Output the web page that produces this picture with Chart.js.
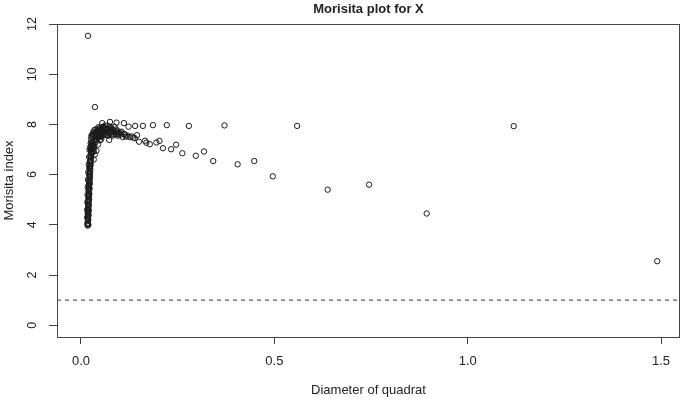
<!DOCTYPE html>
<html><head><meta charset="utf-8">
<script src="https://cdn.jsdelivr.net/npm/chart.js@4.4.1/dist/chart.umd.min.js"></script>
<style>html,body{margin:0;padding:0;background:#fff;}canvas{display:block;}</style>
</head><body>
<canvas id="c" width="685" height="401"></canvas>
<script>
const chartTitle = "Morisita plot for X";
const xAxisLabel = "Diameter of quadrat";
const yAxisLabel = "Morisita index";
const xTicks = [0, 0.5, 1.0, 1.5];
const xTickLabels = ["0.0", "0.5", "1.0", "1.5"];
const yTicks = [0, 2, 4, 6, 8, 10, 12];
const yTickLabels = ["0", "2", "4", "6", "8", "10", "12"];
const refLevel = 1;

const columnDiam = [0.017,0.019,0.018,0.0175,0.019,0.018,0.0185,0.019,0.018,0.0195,0.019,0.0185,0.020,0.019,0.0195,0.020,0.0195,0.0205,0.020,0.021,0.0205,0.021,0.0215,0.021,0.022,0.0215,0.022,0.0225,0.022,0.023,0.0225,0.023,0.024,0.0235,0.024,0.025,0.0245,0.025,0.026,0.0255,0.027,0.026,0.028,0.027,0.029,0.028,0.030,0.024,0.022,0.021,0.020,0.019,0.018,0.0175,0.017,0.0165,0.016,0.016,0.0165,0.033,0.036,0.040];
const columnIndex = [3.97,3.99,4.08,4.15,4.20,4.28,4.35,4.42,4.50,4.55,4.62,4.70,4.76,4.83,4.90,4.97,5.04,5.10,5.18,5.25,5.32,5.40,5.47,5.55,5.62,5.70,5.78,5.85,5.93,6.00,6.08,6.15,6.22,6.30,6.38,6.45,6.52,6.60,6.67,6.75,6.82,6.90,6.95,7.02,7.08,7.15,7.20,7.10,6.98,6.70,6.40,6.10,5.80,5.50,5.20,4.90,4.60,4.30,4.05,6.60,6.80,6.95];

const stemDiam = [0.0185,0.0175,0.0195,0.0175,0.020,0.018,0.020,0.0185,0.021,0.019,0.0215,0.0195,0.022,0.020,0.0225,0.0205,0.023,0.021,0.0235,0.0215,0.0245,0.0225,0.025,0.024,0.026,0.025,0.027,0.029];
const stemIndex = [4.02,4.25,4.38,4.45,4.58,4.66,4.80,4.95,5.02,5.14,5.22,5.36,5.44,5.58,5.66,5.75,5.90,6.02,6.12,6.26,6.35,6.50,6.58,6.72,6.85,7.00,7.25,6.88];

const blobDiam = [0.025,0.026,0.027,0.028,0.029,0.030,0.031,0.032,0.033,0.033,0.034,0.035,0.036,0.037,0.038,0.039,0.040,0.041,0.042,0.043,0.044,0.045,0.046,0.047,0.048,0.049,0.050,0.051,0.052,0.053,0.055,0.056,0.058,0.060,0.062,0.063,0.065,0.067,0.069,0.070,0.072,0.073,0.074,0.076,0.078,0.080,0.082,0.085,0.087,0.090,0.093,0.096,0.100,0.103,0.108,0.112];
const blobIndex = [7.25,7.40,7.10,7.50,7.30,7.45,7.60,7.00,6.92,7.35,7.55,7.20,7.65,7.45,7.30,7.70,7.55,7.40,7.75,7.60,7.20,7.80,7.50,7.65,7.85,7.37,7.55,7.75,7.40,7.85,7.65,7.90,7.55,7.80,7.95,7.60,7.85,7.70,7.95,7.55,7.80,7.38,7.65,7.90,7.60,7.80,7.55,7.70,7.90,7.60,7.75,7.55,7.70,7.60,7.50,7.62];

const bendDiam = [0.046,0.048,0.049,0.051,0.052,0.054,0.054,0.057,0.059,0.059,0.061,0.064,0.066,0.068,0.071,0.073,0.077,0.079,0.081,0.083,0.084,0.088,0.091,0.094,0.038,0.040,0.042,0.044,0.035,0.032,0.030,0.028,0.027,0.026,0.031,0.034,0.0951,0.0972,0.0993,0.1146,0.1208,0.1315,0.1355,0.1656];
const bendIndex = [7.70,7.60,7.78,7.50,7.68,7.82,7.55,7.72,7.85,7.62,7.70,7.78,7.58,7.82,7.68,7.88,7.72,7.85,7.65,7.78,7.60,7.68,7.80,7.62,7.58,7.80,7.48,7.68,7.78,7.70,7.62,7.20,7.55,7.05,7.15,7.08,7.68,7.60,7.65,7.58,7.55,7.52,7.47,7.35];

const upperDiam = [0.018,0.036,0.045,0.055,0.075,0.092,0.111,0.123,0.140,0.160,0.186,0.222,0.279,0.371,0.559,1.119];
const upperIndex = [11.53,8.69,7.89,8.05,8.10,8.07,8.05,7.91,7.94,7.94,7.97,7.97,7.94,7.96,7.94,7.93];

const lowerDiam = [0.105,0.116,0.126,0.139,0.145,0.150,0.169,0.178,0.195,0.203,0.212,0.233,0.246,0.262,0.297,0.318,0.342,0.405,0.448,0.496,0.638,0.745,0.894,1.490];
const lowerIndex = [7.71,7.51,7.49,7.45,7.57,7.31,7.27,7.21,7.28,7.34,7.05,7.01,7.19,6.85,6.75,6.92,6.54,6.41,6.54,5.93,5.40,5.60,4.45,2.55];

const X_MIN = -0.062, X_MAX = 1.549, Y_MIN = -0.47, Y_MAX = 12.0;

function pairs(xs, ys) { return xs.map((x, i) => ({ x: x, y: ys[i] })); }
const points = [].concat(
  pairs(columnDiam, columnIndex),
  pairs(stemDiam, stemIndex),
  pairs(blobDiam, blobIndex),
  pairs(bendDiam, bendIndex),
  pairs(upperDiam, upperIndex),
  pairs(lowerDiam, lowerIndex)
);

const FONT = "'Liberation Sans', Arial, Helvetica, sans-serif";
const INK = '#222';

const framePlugin = {
  id: 'frame',
  afterDraw(chart) {
    const ctx = chart.ctx, a = chart.chartArea;
    const ys = chart.scales.y;
    ctx.save();
    ctx.strokeStyle = '#444';
    ctx.lineWidth = 1;
    const l = Math.round(a.left) + 0.5, t = Math.round(a.top) + 0.5;
    const r = Math.round(a.right) - 0.5, b = Math.round(a.bottom) + 0.5;
    ctx.strokeRect(l, t, r - l, b - t);
    ctx.fillStyle = INK;
    ctx.font = "12.5px " + FONT;
    ctx.textAlign = 'center';
    ctx.textBaseline = 'middle';
    yTicks.forEach((v, i) => {
      const py = ys.getPixelForValue(v);
      ctx.save();
      ctx.translate(33, py);
      ctx.rotate(-Math.PI / 2);
      ctx.fillText(yTickLabels[i], 0, 0);
      ctx.restore();
    });
    ctx.font = "bold 13px " + FONT;
    ctx.fillText(chartTitle, (a.left + a.right) / 2, 9);
    ctx.restore();
  }
};

new Chart(document.getElementById('c'), {
  type: 'scatter',
  data: {
    datasets: [
      {
        data: points,
        pointStyle: 'circle',
        pointRadius: 2.7,
        pointBorderWidth: 1,
        pointBorderColor: '#1a1a1a',
        pointBackgroundColor: 'rgba(0,0,0,0)',
        showLine: false
      },
      {
        type: 'line',
        data: [{ x: X_MIN, y: refLevel }, { x: X_MAX, y: refLevel }],
        borderColor: '#333',
        borderWidth: 1,
        borderDash: [4, 4],
        pointRadius: 0,
        fill: false
      }
    ]
  },
  options: {
    responsive: false,
    animation: false,
    events: [],
    layout: { padding: { top: 24, right: 2, left: 0, bottom: 0 } },
    plugins: { legend: { display: false }, tooltip: { enabled: false }, title: { display: false } },
    scales: {
      x: {
        type: 'linear',
        min: X_MIN, max: X_MAX,
        afterBuildTicks: s => { s.ticks = xTicks.map(v => ({ value: v })); },
        afterFit: s => { s.height = 64; },
        ticks: {
          callback: (v, i) => xTickLabels[i],
          font: { family: FONT, size: 13 },
          color: INK,
          padding: 10,
          maxRotation: 0, minRotation: 0, autoSkip: false
        },
        grid: { drawOnChartArea: false, drawTicks: true, tickLength: 7, color: '#444', lineWidth: 1 },
        border: { display: false },
        title: { display: true, text: xAxisLabel, color: INK, font: { family: FONT, size: 13 }, padding: { top: 0, bottom: 3 } }
      },
      y: {
        type: 'linear',
        min: Y_MIN, max: Y_MAX,
        afterBuildTicks: s => { s.ticks = yTicks.map(v => ({ value: v })); },
        afterFit: s => { s.width = 57; },
        ticks: { display: false },
        grid: { drawOnChartArea: false, drawTicks: true, tickLength: 8, color: '#444', lineWidth: 1 },
        border: { display: false },
        title: { display: true, text: yAxisLabel, color: INK, font: { family: FONT, size: 13 }, padding: { top: 2, bottom: 0 } }
      }
    }
  },
  plugins: [framePlugin]
});
</script>
</body></html>
